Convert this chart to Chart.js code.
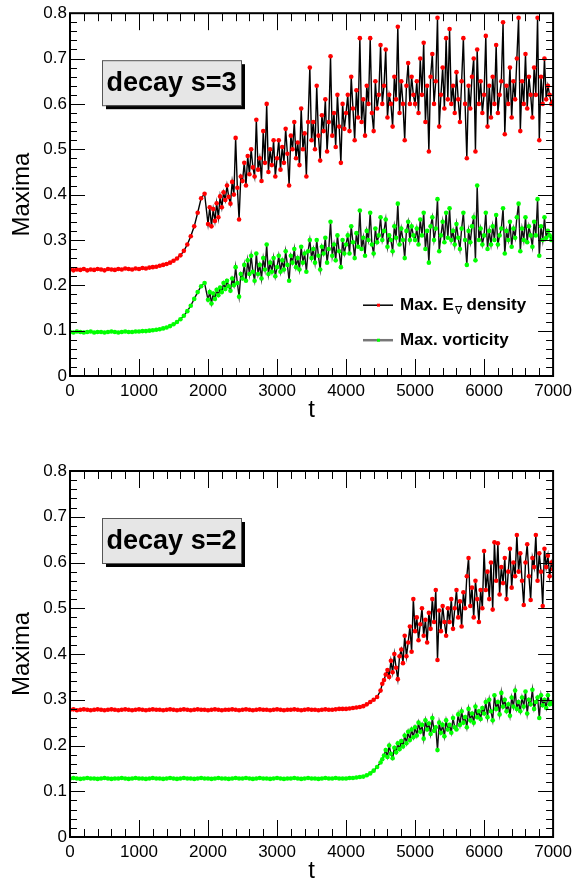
<!DOCTYPE html>
<html>
<head>
<meta charset="utf-8">
<script src="https://cdn.jsdelivr.net/npm/chart.js@4/dist/chart.umd.min.js"></script>
<style>
  body { margin: 0; background: #fff; }
  .panel { position: absolute; left: 0; width: 577px; height: 441px; }
</style>
</head>
<body>
<div class="panel" style="top:0"><canvas id="top" width="577" height="441"></canvas></div>
<div class="panel" style="top:441px"><canvas id="bottom" width="577" height="441"></canvas></div>
<script>
// sample times: every 50 in the quiet phase, every 25 once the signal gets noisy
const timesS3 = [
  ...Array.from({ length: 40 }, (_, i) => i * 50),
  ...Array.from({ length: 201 }, (_, i) => 2000 + i * 25)
];
const timesS2 = [
  ...Array.from({ length: 90 }, (_, i) => i * 50),
  ...Array.from({ length: 101 }, (_, i) => 4500 + i * 25)
];

const yTicks = [0, 0.1, 0.2, 0.3, 0.4, 0.5, 0.6, 0.7, 0.8];
const xTicks = [0, 1000, 2000, 3000, 4000, 5000, 6000, 7000];
const legendLabels = ['Max. E', 'Max. vorticity'];

// decay s=3, max. E density
const energyS3 = [
  0.236, 0.233, 0.235, 0.234, 0.236, 0.233, 0.235, 0.234, 0.236, 0.235,
  0.233, 0.236, 0.235, 0.234, 0.236, 0.235, 0.237, 0.236, 0.235, 0.237,
  0.236, 0.238, 0.237, 0.239, 0.240, 0.241, 0.243, 0.245, 0.247, 0.250,
  0.254, 0.259, 0.266, 0.276, 0.290, 0.308, 0.330, 0.360, 0.392, 0.402,
  // t >= 2000, step 25
  0.335, 0.372, 0.330, 0.368, 0.342, 0.381, 0.350, 0.396, 0.372, 0.405, 0.388, 0.420, 0.395, 0.380, 0.428, 0.400, 0.525, 0.415, 0.345, 0.440,
  0.430, 0.470, 0.420, 0.485, 0.445, 0.500, 0.460, 0.440, 0.565, 0.455, 0.480, 0.430, 0.540, 0.470, 0.600, 0.450, 0.500, 0.465, 0.520, 0.440,
  0.480, 0.520, 0.455, 0.505, 0.470, 0.545, 0.490, 0.420, 0.530, 0.500, 0.560, 0.480, 0.515, 0.465, 0.590, 0.500, 0.535, 0.440, 0.560, 0.680,
  0.520, 0.560, 0.500, 0.640, 0.530, 0.475, 0.575, 0.540, 0.610, 0.495, 0.560, 0.705, 0.530, 0.580, 0.505, 0.620, 0.550, 0.470, 0.600, 0.545,
  0.580, 0.620, 0.540, 0.660, 0.590, 0.520, 0.630, 0.570, 0.745, 0.560, 0.610, 0.530, 0.640, 0.600, 0.745, 0.580, 0.540, 0.650, 0.590, 0.620,
  0.730, 0.600, 0.640, 0.720, 0.570, 0.620, 0.600, 0.550, 0.660, 0.610, 0.770, 0.580, 0.650, 0.600, 0.520, 0.640, 0.690, 0.600, 0.660, 0.620,
  0.600, 0.650, 0.580, 0.700, 0.620, 0.735, 0.560, 0.640, 0.495, 0.660, 0.710, 0.600, 0.650, 0.790, 0.550, 0.620, 0.680, 0.590, 0.745, 0.610,
  0.765, 0.600, 0.640, 0.580, 0.670, 0.610, 0.560, 0.650, 0.745, 0.600, 0.480, 0.640, 0.590, 0.660, 0.700, 0.495, 0.720, 0.600, 0.650, 0.580,
  0.620, 0.750, 0.550, 0.640, 0.570, 0.660, 0.600, 0.730, 0.580, 0.620, 0.650, 0.780, 0.533, 0.640, 0.600, 0.680, 0.570, 0.650, 0.610, 0.700,
  0.790, 0.540, 0.650, 0.600, 0.710, 0.590, 0.660, 0.620, 0.570, 0.680, 0.620, 0.790, 0.520, 0.660, 0.600, 0.700, 0.610, 0.640, 0.620, 0.600,
  0.605
];

// decay s=3, max. vorticity
const vortS3 = [
  0.097, 0.096, 0.098, 0.097, 0.096, 0.097, 0.098, 0.096, 0.097, 0.097,
  0.096, 0.097, 0.098, 0.097, 0.096, 0.097, 0.098, 0.097, 0.097, 0.098,
  0.098, 0.099, 0.099, 0.100, 0.101, 0.102, 0.103, 0.105, 0.107, 0.110,
  0.114, 0.119, 0.125, 0.133, 0.143, 0.155, 0.170, 0.185, 0.198, 0.205,
  // t >= 2000, step 25
  0.168, 0.185, 0.160, 0.182, 0.170, 0.190, 0.178, 0.195, 0.185, 0.205, 0.192, 0.210, 0.198, 0.188, 0.215, 0.200, 0.240, 0.205, 0.175, 0.225,
  0.215, 0.245, 0.210, 0.255, 0.225, 0.265, 0.230, 0.210, 0.270, 0.225, 0.245, 0.215, 0.260, 0.235, 0.290, 0.225, 0.250, 0.230, 0.260, 0.220,
  0.240, 0.265, 0.230, 0.255, 0.235, 0.275, 0.245, 0.210, 0.265, 0.250, 0.280, 0.240, 0.260, 0.235, 0.285, 0.250, 0.270, 0.230, 0.275, 0.300,
  0.260, 0.280, 0.250, 0.300, 0.265, 0.235, 0.285, 0.270, 0.305, 0.250, 0.280, 0.340, 0.265, 0.290, 0.255, 0.310, 0.275, 0.240, 0.300, 0.270,
  0.290, 0.310, 0.270, 0.330, 0.295, 0.260, 0.315, 0.285, 0.365, 0.280, 0.305, 0.265, 0.320, 0.300, 0.360, 0.290, 0.270, 0.325, 0.295, 0.310,
  0.350, 0.300, 0.320, 0.345, 0.285, 0.310, 0.300, 0.275, 0.330, 0.305, 0.380, 0.290, 0.325, 0.300, 0.260, 0.320, 0.340, 0.300, 0.330, 0.310,
  0.300, 0.325, 0.290, 0.345, 0.310, 0.360, 0.280, 0.320, 0.250, 0.330, 0.350, 0.300, 0.325, 0.390, 0.275, 0.310, 0.340, 0.295, 0.360, 0.305,
  0.370, 0.300, 0.320, 0.290, 0.335, 0.305, 0.280, 0.325, 0.360, 0.300, 0.245, 0.320, 0.295, 0.330, 0.350, 0.255, 0.420, 0.300, 0.325, 0.290,
  0.310, 0.360, 0.280, 0.320, 0.290, 0.330, 0.300, 0.355, 0.290, 0.310, 0.325, 0.370, 0.270, 0.320, 0.300, 0.340, 0.285, 0.325, 0.305, 0.350,
  0.380, 0.275, 0.325, 0.300, 0.350, 0.295, 0.330, 0.310, 0.285, 0.340, 0.310, 0.390, 0.265, 0.330, 0.300, 0.350, 0.305, 0.320, 0.310, 0.300,
  0.305
];

// decay s=2, max. E density
const energyS2 = [
  0.278, 0.279, 0.277, 0.278, 0.279, 0.278, 0.277, 0.278, 0.279, 0.278,
  0.277, 0.278, 0.279, 0.278, 0.277, 0.278, 0.279, 0.278, 0.277, 0.278,
  0.279, 0.278, 0.277, 0.278, 0.279, 0.278, 0.278, 0.277, 0.278, 0.279,
  0.278, 0.277, 0.278, 0.279, 0.278, 0.277, 0.278, 0.279, 0.278, 0.278,
  0.277, 0.278, 0.279, 0.278, 0.277, 0.278, 0.278, 0.279, 0.278, 0.277,
  0.278, 0.279, 0.278, 0.277, 0.278, 0.279, 0.278, 0.278, 0.277, 0.278,
  0.279, 0.278, 0.277, 0.278, 0.278, 0.279, 0.278, 0.277, 0.278, 0.279,
  0.278, 0.278, 0.277, 0.278, 0.279, 0.278, 0.278, 0.279, 0.280, 0.280,
  0.280, 0.281, 0.282, 0.283, 0.284, 0.286, 0.290, 0.295, 0.300, 0.306,
  // t >= 4500, step 25
  0.320, 0.335, 0.343, 0.355, 0.365, 0.350, 0.385, 0.360, 0.400, 0.370, 0.345, 0.395, 0.410, 0.380, 0.440, 0.395, 0.425, 0.460, 0.405, 0.520,
  0.450, 0.480, 0.430, 0.465, 0.500, 0.440, 0.475, 0.425, 0.490, 0.455, 0.520, 0.470, 0.540, 0.387, 0.495, 0.450, 0.505, 0.470, 0.440, 0.500,
  0.470, 0.520, 0.455, 0.500, 0.540, 0.480, 0.515, 0.460, 0.535, 0.500, 0.570, 0.610, 0.505, 0.545, 0.480, 0.560, 0.520, 0.470, 0.540, 0.500,
  0.625, 0.540, 0.580, 0.520, 0.600, 0.497, 0.644, 0.560, 0.642, 0.530, 0.590, 0.555, 0.610, 0.520, 0.580, 0.630, 0.545, 0.600, 0.570, 0.660,
  0.580, 0.620, 0.560, 0.507, 0.600, 0.640, 0.570, 0.518, 0.610, 0.590, 0.660, 0.560, 0.620, 0.580, 0.505, 0.630, 0.590, 0.615, 0.570, 0.600,
  0.585
];

// decay s=2, max. vorticity
const vortS2 = [
  0.128, 0.129, 0.128, 0.127, 0.128, 0.129, 0.128, 0.128, 0.127, 0.128,
  0.129, 0.128, 0.127, 0.128, 0.128, 0.129, 0.128, 0.127, 0.128, 0.129,
  0.128, 0.128, 0.127, 0.128, 0.129, 0.128, 0.128, 0.127, 0.128, 0.129,
  0.128, 0.127, 0.128, 0.129, 0.128, 0.128, 0.127, 0.128, 0.129, 0.128,
  0.128, 0.127, 0.128, 0.129, 0.128, 0.128, 0.127, 0.128, 0.129, 0.128,
  0.128, 0.129, 0.128, 0.127, 0.128, 0.129, 0.128, 0.128, 0.127, 0.128,
  0.129, 0.128, 0.127, 0.128, 0.128, 0.129, 0.128, 0.127, 0.128, 0.129,
  0.128, 0.128, 0.127, 0.128, 0.129, 0.128, 0.128, 0.129, 0.128, 0.128,
  0.128, 0.129, 0.129, 0.130, 0.131, 0.132, 0.135, 0.139, 0.145, 0.153,
  // t >= 4500, step 25
  0.163, 0.170, 0.178, 0.190, 0.175, 0.200, 0.182, 0.172, 0.195, 0.185, 0.205, 0.192, 0.210, 0.198, 0.222, 0.205, 0.230, 0.212, 0.235, 0.218,
  0.240, 0.222, 0.250, 0.230, 0.245, 0.215, 0.255, 0.235, 0.248, 0.225, 0.260, 0.232, 0.240, 0.190, 0.250, 0.228, 0.245, 0.220, 0.255, 0.235,
  0.245, 0.228, 0.260, 0.240, 0.235, 0.268, 0.245, 0.275, 0.250, 0.262, 0.240, 0.280, 0.255, 0.270, 0.250, 0.285, 0.262, 0.275, 0.258, 0.282,
  0.270, 0.295, 0.262, 0.300, 0.275, 0.255, 0.310, 0.280, 0.295, 0.268, 0.315, 0.285, 0.300, 0.275, 0.290, 0.265, 0.305, 0.285, 0.320, 0.280,
  0.295, 0.275, 0.305, 0.285, 0.318, 0.270, 0.300, 0.290, 0.322, 0.280, 0.295, 0.305, 0.260, 0.310, 0.288, 0.300, 0.282, 0.310, 0.290, 0.295,
  0.290
];

const FONT = "'Liberation Sans', Arial, Helvetica, sans-serif";

function toPoints(times, values) {
  return values.map((v, i) => ({ x: times[i], y: v }));
}

// ROOT-like frame with inward ticks, axis titles, label box and legend
const rootStyle = {
  id: 'rootStyle',
  afterDraw(chart, args, opts) {
    const ctx = chart.ctx;
    const a = chart.chartArea;
    const xs = chart.scales.x, ys = chart.scales.y;
    ctx.save();
    ctx.strokeStyle = '#000';
    ctx.lineWidth = 1;
    ctx.beginPath();
    for (let t = 0; t <= 7000; t += 200) {
      const px = Math.round(xs.getPixelForValue(t)) + 0.5;
      const len = t % 1000 === 0 ? 17 : 8;
      ctx.moveTo(px, a.bottom); ctx.lineTo(px, a.bottom - len);
      ctx.moveTo(px, a.top); ctx.lineTo(px, a.top + len);
    }
    for (let k = 0; k <= 40; k++) {
      const py = Math.round(ys.getPixelForValue(k * 0.02)) + 0.5;
      const len = k % 5 === 0 ? 15 : 7;
      ctx.moveTo(a.left, py); ctx.lineTo(a.left + len, py);
      ctx.moveTo(a.right, py); ctx.lineTo(a.right - len, py);
    }
    ctx.stroke();

    ctx.lineWidth = 2;
    ctx.strokeRect(a.left, a.top, a.right - a.left, a.bottom - a.top);

    // axis titles
    ctx.fillStyle = '#000';
    ctx.font = '24px ' + FONT;
    ctx.textAlign = 'center';
    ctx.textBaseline = 'middle';
    ctx.fillText('t', (a.left + a.right) / 2, a.bottom + 34);
    ctx.save();
    ctx.translate(22, (a.top + a.bottom) / 2);
    ctx.rotate(-Math.PI / 2);
    ctx.fillText('Maxima', 0, 0);
    ctx.restore();

    // label box
    const bx = a.left + 32, by = a.top + 47, bw = 139, bh = 45;
    ctx.fillStyle = '#000';
    ctx.fillRect(bx + 4, by + 4, bw, bh);
    ctx.fillStyle = '#e6e6e6';
    ctx.fillRect(bx, by, bw, bh);
    ctx.lineWidth = 1;
    ctx.strokeStyle = '#555';
    ctx.strokeRect(bx + 0.5, by + 0.5, bw, bh);
    ctx.fillStyle = '#000';
    ctx.font = 'bold 27px ' + FONT;
    ctx.fillText(opts.label, bx + bw / 2, by + bh / 2 + 1);

    if (opts.legend) {
      const rows = [
        { y: a.top + 292, line: '#000', dot: '#ff0000', text: legendLabels[0], sub: true },
        { y: a.top + 327, line: '#777', dot: '#00ff00', text: legendLabels[1], sub: false }
      ];
      rows.forEach(r => {
        ctx.strokeStyle = r.line;
        ctx.lineWidth = r.sub ? 1.5 : 2.5;
        ctx.beginPath();
        ctx.moveTo(363, r.y); ctx.lineTo(393, r.y);
        ctx.stroke();
        ctx.fillStyle = r.dot;
        ctx.fillRect(377, r.y - 1.5, 3, 3);
        ctx.fillStyle = '#000';
        ctx.textAlign = 'left';
        ctx.textBaseline = 'middle';
        ctx.font = 'bold 17px ' + FONT;
        ctx.fillText(r.text, 400, r.y);
        if (r.sub) {
          let x = 400 + ctx.measureText(r.text).width;
          ctx.font = '11px ' + FONT;
          ctx.fillText('\u2207', x + 1, r.y + 6);
          x += ctx.measureText('\u2207').width + 1;
          ctx.font = 'bold 17px ' + FONT;
          ctx.fillText(' density', x, r.y);
        }
      });
    }
    ctx.restore();
  }
};

function makeChart(id, times, energy, vort, label, legend, padTop) {
  const xAxisHeight = 441 - padTop - 366;
  new Chart(document.getElementById(id).getContext('2d'), {
    type: 'line',
    data: {
      datasets: [
        {
          label: legendLabels[0],
          data: toPoints(times, energy),
          borderColor: '#000',
          borderWidth: 1.4,
          pointRadius: 2.3,
          pointBorderWidth: 0,
          pointBackgroundColor: '#ff0000',
          tension: 0,
          order: 2
        },
        {
          label: legendLabels[1],
          data: toPoints(times, vort),
          borderColor: '#111',
          borderWidth: 1.4,
          pointRadius: 2.3,
          pointBorderWidth: 0,
          pointBackgroundColor: '#00ff00',
          tension: 0,
          order: 1
        }
      ]
    },
    options: {
      responsive: false,
      animation: false,
      layout: { padding: { left: 0, right: 19, top: padTop, bottom: 0 } },
      plugins: {
        legend: { display: false },
        tooltip: { enabled: false },
        rootStyle: { label: label, legend: legend }
      },
      scales: {
        x: {
          type: 'linear',
          min: 0,
          max: 7000,
          afterFit: s => { s.height = xAxisHeight; },
          afterBuildTicks: s => { s.ticks = xTicks.map(v => ({ value: v })); },
          grid: { display: false, drawTicks: false },
          border: { display: false },
          ticks: {
            autoSkip: false,
            maxRotation: 0,
            padding: 5,
            color: '#000',
            font: { family: FONT, size: 17 },
            callback: v => String(v)
          }
        },
        y: {
          min: 0,
          max: 0.8,
          afterFit: s => { s.width = 70; },
          afterBuildTicks: s => { s.ticks = yTicks.map(v => ({ value: v })); },
          grid: { display: false, drawTicks: false },
          border: { display: false },
          ticks: {
            autoSkip: false,
            padding: 3,
            color: '#000',
            font: { family: FONT, size: 17 },
            callback: v => String(Math.round(v * 10) / 10)
          }
        }
      }
    },
    plugins: [rootStyle]
  });
}

makeChart('top', timesS3, energyS3, vortS3, 'decay s=3', true, 10);
makeChart('bottom', timesS2, energyS2, vortS2, 'decay s=2', false, 30);
</script>
</body>
</html>
